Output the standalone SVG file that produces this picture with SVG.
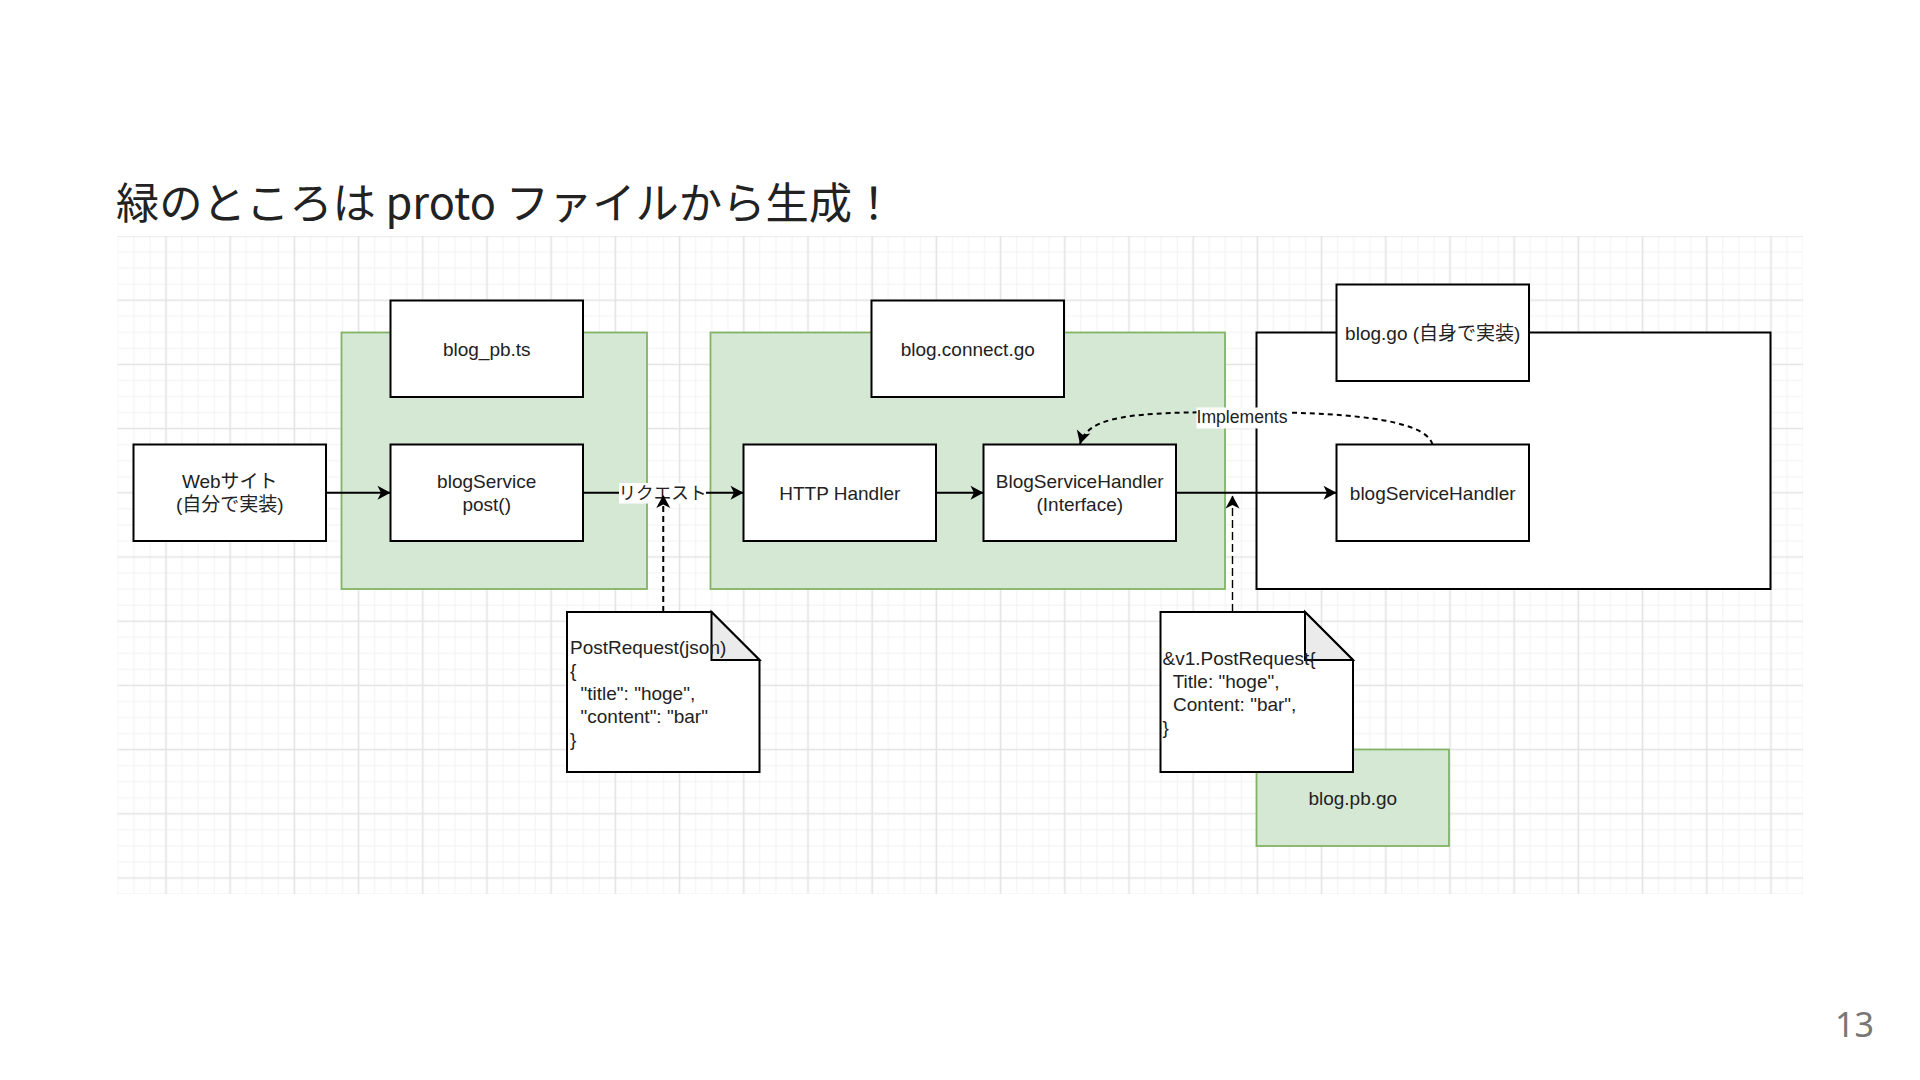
<svg xmlns="http://www.w3.org/2000/svg" width="1920" height="1080" viewBox="0 0 1920 1080">
<defs>
<style>
.box{fill:#fff;stroke:#000;stroke-width:2}
.grp{fill:#d5e8d4;stroke:#82b366;stroke-width:1.8}
.cont{fill:#fff;stroke:#000;stroke-width:2}
.lbl{font-family:"Liberation Sans","Noto Sans CJK JP",sans-serif;font-size:19px;fill:#222;text-anchor:middle}
.note{font-family:"Liberation Sans","Noto Sans CJK JP",sans-serif;font-size:19px;fill:#222}
.elbl{font-family:"Liberation Sans","Noto Sans CJK JP",sans-serif;font-size:17.6px;fill:#222;text-anchor:middle}
.edge{fill:none;stroke:#000;stroke-width:2;marker-end:url(#arr)}
.dash{fill:none;stroke:#000;stroke-width:2;stroke-dasharray:6 4;marker-end:url(#arr)}
.dash2{fill:none;stroke:#000;stroke-width:1.4;stroke-dasharray:8 4;marker-end:url(#arr)}
.curve{fill:none;stroke:#000;stroke-width:2;stroke-dasharray:5 4;marker-end:url(#arr)}
.fold{fill:#ebebeb;stroke:#000;stroke-width:2}
</style>
<marker id="arr" viewBox="-14 -8 15 16" refX="0" refY="0" markerWidth="15" markerHeight="16" markerUnits="userSpaceOnUse" orient="auto">
<path d="M0,0 L-13,-7 L-9.5,0 L-13,7 Z" fill="#000"/>
</marker>
<pattern id="grid" patternUnits="userSpaceOnUse" x="133.9" y="203.9" width="64.2" height="64.2">
<path d="M0 0V64.2M16.05 0V64.2M48.15 0V64.2M64.2 0V64.2M0 0H64.2M0 16.05H64.2M0 48.15H64.2M0 64.2H64.2" stroke="#f2f2f2" stroke-width="1" fill="none"/>
<path d="M32.1 0V64.2M0 32.1H64.2" stroke="#e3e3e3" stroke-width="1.6" fill="none"/>
</pattern>
</defs>
<rect width="1920" height="1080" fill="#fff"/>
<text x="116" y="219" font-family="'Noto Sans CJK JP','Noto Sans',sans-serif" font-size="43.3" fill="#222">緑のところは proto ファイルから生成！</text>
<text x="1874" y="1037" font-family="'Noto Sans','Noto Sans CJK JP',sans-serif" font-size="34" fill="#777" text-anchor="end">13</text>
<rect x="117.5" y="236" width="1685.5" height="658" fill="url(#grid)"/>

<g id="group-ts"><rect class="grp" x="341.5" y="332.5" width="305.5" height="256.5"/></g>
<g id="group-connect"><rect class="grp" x="710.5" y="332.5" width="514.5" height="256.5"/></g>
<g id="group-impl"><rect class="cont" x="1256.5" y="332.5" width="514" height="256.5"/></g>

<g id="node-pbts"><rect class="box" x="390.5" y="300.5" width="192.5" height="96.5"/><text class="lbl" x="486.75" y="355.5">blog_pb.ts</text></g>
<g id="node-connect"><rect class="box" x="871.5" y="300.5" width="192.5" height="96.5"/><text class="lbl" x="967.75" y="355.5">blog.connect.go</text></g>
<g id="node-bloggo"><rect class="box" x="1336.5" y="284.5" width="192.5" height="96.5"/><text class="lbl" x="1432.75" y="339.5">blog.go (自身で実装)</text></g>
<g id="node-web"><rect class="box" x="133.5" y="444.5" width="192.5" height="96.5"/><text class="lbl" x="229.75" y="488">Webサイト</text><text class="lbl" x="229.75" y="511">(自分で実装)</text></g>
<g id="node-post"><rect class="box" x="390.5" y="444.5" width="192.5" height="96.5"/><text class="lbl" x="486.75" y="488">blogService</text><text class="lbl" x="486.75" y="511">post()</text></g>
<g id="node-http"><rect class="box" x="743.5" y="444.5" width="192.5" height="96.5"/><text class="lbl" x="839.75" y="499.5">HTTP Handler</text></g>
<g id="node-bshif"><rect class="box" x="983.5" y="444.5" width="192.5" height="96.5"/><text class="lbl" x="1079.75" y="488">BlogServiceHandler</text><text class="lbl" x="1079.75" y="511">(Interface)</text></g>
<g id="node-bsh"><rect class="box" x="1336.5" y="444.5" width="192.5" height="96.5"/><text class="lbl" x="1432.75" y="499.5">blogServiceHandler</text></g>
<g id="node-pbgo"><rect class="grp" x="1256.5" y="749.5" width="192.5" height="96.5"/><text class="lbl" x="1352.75" y="804.5">blog.pb.go</text></g>

<g id="connectors">
<path class="edge" d="M326,492.75 H390.5"/>
<path class="edge" d="M583,492.75 H743.5"/>
<path class="edge" d="M936,492.75 H983.5"/>
<path class="edge" d="M1176,492.75 H1336.5"/>
<path class="curve" d="M1432.5,444.5 C1425,418 1340,412 1240,412 C1130,412 1088,416 1080,444"/>
<rect x="619" y="483" width="87" height="20.5" fill="#fff"/>
<text class="elbl" x="662.5" y="499">リクエスト</text>
<rect x="1196.5" y="407.5" width="92" height="21" fill="#fff"/>
<text class="elbl" x="1242" y="423">Implements</text>
<path class="dash" d="M663.25,612 V495"/>
<path class="dash2" d="M1232.5,612 V495.5"/>
</g>

<g id="note-json">
<path class="box" d="M567,612 H711.5 L759.5,660 V772 H567 Z"/>
<path class="fold" d="M711.5,612 V660 H759.5 Z"/>
<text class="note" x="570" y="654" xml:space="preserve">PostRequest(json)</text>
<text class="note" x="570" y="676.9" xml:space="preserve">{</text>
<text class="note" x="570" y="699.8" xml:space="preserve">  "title": "hoge",</text>
<text class="note" x="570" y="722.7" xml:space="preserve">  "content": "bar"</text>
<text class="note" x="570" y="745.6" xml:space="preserve">}</text>
</g>
<g id="note-go">
<path class="box" d="M1160.5,612 H1305 L1353,660 V772 H1160.5 Z"/>
<path class="fold" d="M1305,612 V660 H1353 Z"/>
<text class="note" x="1162.5" y="665" xml:space="preserve">&amp;v1.PostRequest{</text>
<text class="note" x="1162.5" y="687.9" xml:space="preserve">  Title: "hoge",</text>
<text class="note" x="1162.5" y="710.8" xml:space="preserve">  Content: "bar",</text>
<text class="note" x="1162.5" y="733.7" xml:space="preserve">}</text>
</g>
</svg>
